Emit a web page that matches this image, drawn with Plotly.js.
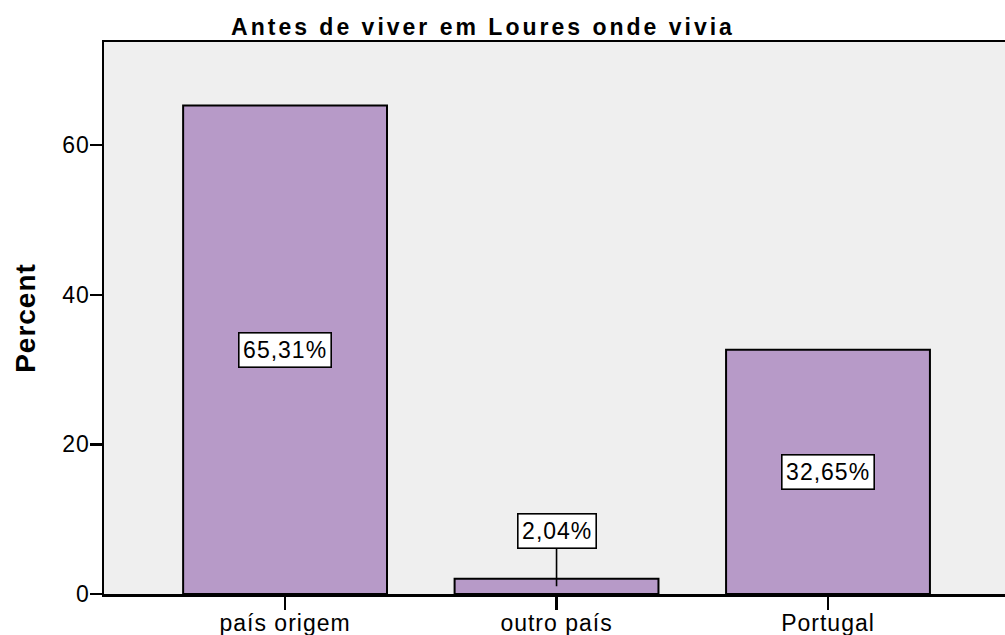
<!DOCTYPE html>
<html>
<head>
<meta charset="utf-8">
<script src="https://cdn.plot.ly/plotly-3.0.1.min.js"></script>
<style>
  html, body { margin: 0; padding: 0; background: #ffffff; }
  #chart { width: 1005px; height: 635px; }
  text { letter-spacing: 1px; }
  .gtitle { letter-spacing: 3px !important; }
  .ytitle { letter-spacing: 1px !important; }
</style>
</head>
<body>
<div id="chart"></div>
<script>
// Data
const categories = ["país origem", "outro país", "Portugal"];
const percents = [65.31, 2.04, 32.65];
const percentLabels = ["65,31%", "2,04%", "32,65%"];
const yTicks = [0, 20, 40, 60];

const barColor = "#b79ac8";
const fontFam = "Liberation Sans, Arial, sans-serif";

const trace = {
  type: "bar",
  x: [0, 1, 2],
  y: percents,
  width: 0.751,
  marker: { color: barColor, line: { color: "#000000", width: 2 } },
  hoverinfo: "skip"
};

const annotations = percents.map((v, i) => {
  const small = v < 5;
  return {
    x: i, y: v / 2, xref: "x", yref: "y",
    text: percentLabels[i],
    showarrow: small,
    arrowhead: 0, arrowwidth: 1.6, arrowcolor: "#000000",
    ax: 0, ay: small ? -55 : 0,
    bgcolor: "#ffffff", bordercolor: "#000000", borderwidth: 1.6, borderpad: 3.5,
    font: { family: fontFam, size: 23, color: "#000000" }
  };
});

const layout = {
  width: 1005, height: 635,
  margin: { l: 104, r: 0, t: 42, b: 41, pad: 0 },
  paper_bgcolor: "#ffffff",
  plot_bgcolor: "#efefef",
  showlegend: false,
  title: {
    text: "Antes de viver em Loures onde vivia",
    font: { family: fontFam, size: 23, color: "#000000", weight: "bold" },
    xref: "container", yref: "container",
    x: 0.4806, xanchor: "center",
    y: 0.958, yanchor: "middle"
  },
  xaxis: {
    range: [-0.667, 2.652],
    tickmode: "array", tickvals: [0, 1, 2], ticktext: categories,
    showline: true, linecolor: "#000000", linewidth: 2.5, mirror: true,
    ticks: "outside", ticklen: 13, tickwidth: 2.5, tickcolor: "#000000",
    ticklabelstandoff: -6,
    showgrid: false, zeroline: false,
    tickfont: { family: fontFam, size: 23, color: "#000000" },
    fixedrange: true
  },
  yaxis: {
    range: [0, 73.8],
    tickmode: "array", tickvals: yTicks, ticktext: yTicks.map(String),
    showline: true, linecolor: "#000000", linewidth: 2.5,
    ticks: "outside", ticklen: 12, tickwidth: 2.5, tickcolor: "#000000",
    ticklabelstandoff: -5,
    showgrid: false, zeroline: false,
    tickfont: { family: fontFam, size: 23, color: "#000000" },
    title: {
      text: "Percent",
      font: { family: fontFam, size: 28, color: "#000000", weight: "bold" },
      standoff: 19
    },
    fixedrange: true
  },
  annotations: annotations
};

Plotly.newPlot("chart", [trace], layout, { displayModeBar: false, staticPlot: true });
</script>
</body>
</html>
